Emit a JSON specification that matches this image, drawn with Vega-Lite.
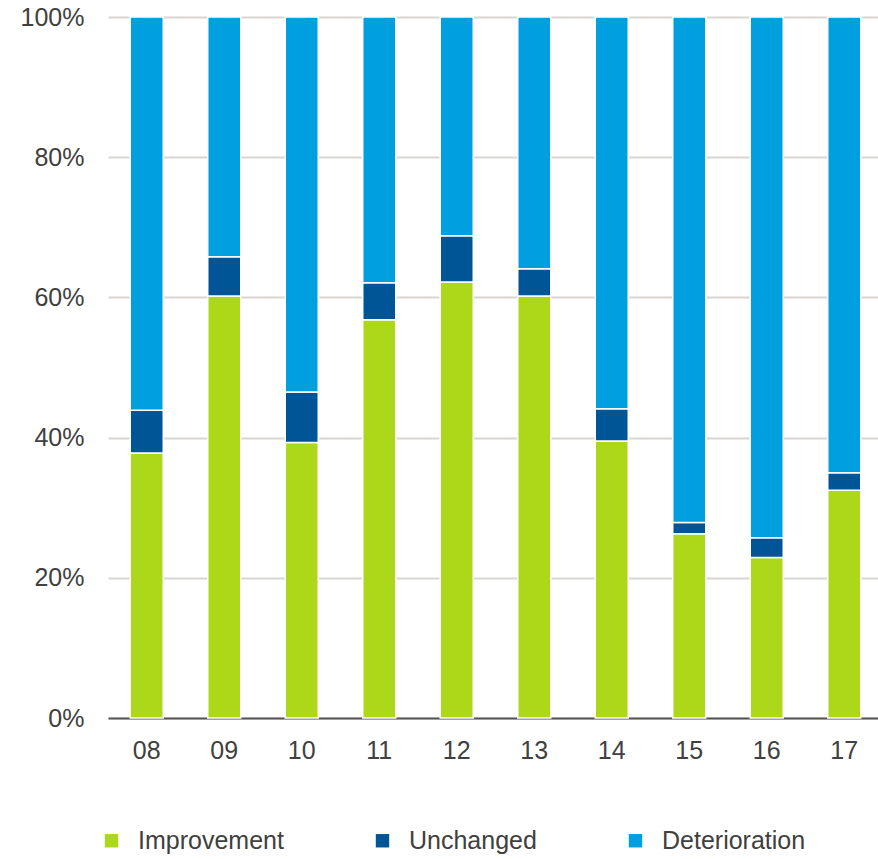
{
  "$schema": "https://vega.github.io/schema/vega-lite/v6.json",
  "autosize": "none",
  "width": 775,
  "height": 701,
  "padding": {"left": 108, "top": 17, "right": 0, "bottom": 141},
  "background": "white",
  "data": {
    "values": [
      {"year": "08", "category": "Improvement", "order": 1, "value": 37.8},
      {"year": "08", "category": "Unchanged", "order": 2, "value": 6.1},
      {"year": "08", "category": "Deterioration", "order": 3, "value": 56.1},
      {"year": "09", "category": "Improvement", "order": 1, "value": 60.2},
      {"year": "09", "category": "Unchanged", "order": 2, "value": 5.6},
      {"year": "09", "category": "Deterioration", "order": 3, "value": 34.2},
      {"year": "10", "category": "Improvement", "order": 1, "value": 39.3},
      {"year": "10", "category": "Unchanged", "order": 2, "value": 7.2},
      {"year": "10", "category": "Deterioration", "order": 3, "value": 53.5},
      {"year": "11", "category": "Improvement", "order": 1, "value": 56.8},
      {"year": "11", "category": "Unchanged", "order": 2, "value": 5.3},
      {"year": "11", "category": "Deterioration", "order": 3, "value": 37.9},
      {"year": "12", "category": "Improvement", "order": 1, "value": 62.2},
      {"year": "12", "category": "Unchanged", "order": 2, "value": 6.6},
      {"year": "12", "category": "Deterioration", "order": 3, "value": 31.2},
      {"year": "13", "category": "Improvement", "order": 1, "value": 60.2},
      {"year": "13", "category": "Unchanged", "order": 2, "value": 3.9},
      {"year": "13", "category": "Deterioration", "order": 3, "value": 35.9},
      {"year": "14", "category": "Improvement", "order": 1, "value": 39.5},
      {"year": "14", "category": "Unchanged", "order": 2, "value": 4.6},
      {"year": "14", "category": "Deterioration", "order": 3, "value": 55.9},
      {"year": "15", "category": "Improvement", "order": 1, "value": 26.3},
      {"year": "15", "category": "Unchanged", "order": 2, "value": 1.6},
      {"year": "15", "category": "Deterioration", "order": 3, "value": 72.1},
      {"year": "16", "category": "Improvement", "order": 1, "value": 22.9},
      {"year": "16", "category": "Unchanged", "order": 2, "value": 2.8},
      {"year": "16", "category": "Deterioration", "order": 3, "value": 74.3},
      {"year": "17", "category": "Improvement", "order": 1, "value": 32.5},
      {"year": "17", "category": "Unchanged", "order": 2, "value": 2.5},
      {"year": "17", "category": "Deterioration", "order": 3, "value": 65.0}
    ]
  },
  "mark": {"type": "bar", "stroke": "white", "strokeWidth": 1.5},
  "encoding": {
    "x": {
      "field": "year",
      "type": "ordinal",
      "scale": {"paddingInner": 0.574, "paddingOuter": 0.287},
      "axis": {
        "title": null,
        "labelAngle": 0,
        "labelFont": "Liberation Sans",
        "labelFontSize": 25,
        "labelColor": "#404040",
        "labelPadding": 20,
        "ticks": false,
        "domainColor": "#555555",
        "domainWidth": 2,
        "grid": false
      }
    },
    "y": {
      "field": "value",
      "type": "quantitative",
      "stack": "normalize",
      "scale": {"domain": [0, 1], "nice": false},
      "axis": {
        "title": null,
        "format": ".0%",
        "values": [0, 0.2, 0.4, 0.6, 0.8, 1],
        "labelFont": "Liberation Sans",
        "labelFontSize": 25,
        "labelColor": "#404040",
        "labelPadding": 24,
        "ticks": false,
        "domain": false,
        "grid": true,
        "gridColor": "#d9d6d3",
        "gridWidth": 2
      }
    },
    "color": {
      "field": "category",
      "type": "nominal",
      "sort": ["Improvement", "Unchanged", "Deterioration"],
      "scale": {
        "domain": ["Improvement", "Unchanged", "Deterioration"],
        "range": ["#add81a", "#005596", "#009fe0"]
      },
      "legend": {
        "title": null,
        "orient": "none",
        "legendX": -9,
        "legendY": 811,
        "direction": "horizontal",
        "columns": 3,
        "columnPadding": 86,
        "symbolType": "square",
        "symbolSize": 180,
        "symbolStrokeWidth": 0,
        "symbolOffset": 0,
        "labelOffset": 14,
        "labelFont": "Liberation Sans",
        "labelFontSize": 25,
        "labelColor": "#404040",
        "labelLimit": 300
      }
    },
    "order": {"field": "order", "type": "quantitative"}
  },
  "config": {"view": {"stroke": null}}
}
